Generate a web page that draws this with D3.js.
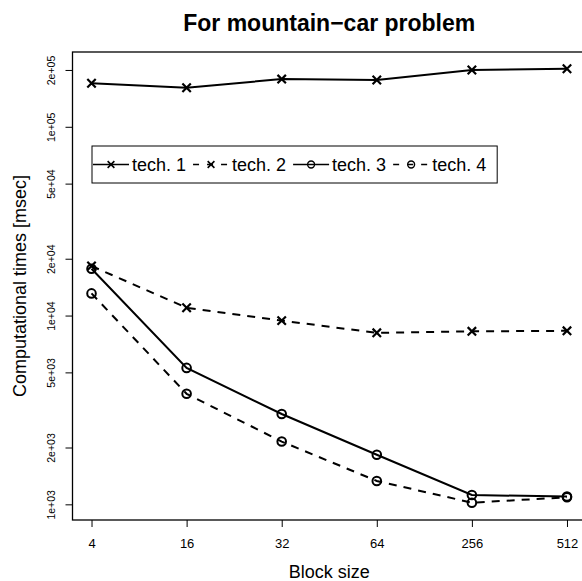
<!DOCTYPE html>
<html>
<head>
<meta charset="utf-8">
<script src="https://cdn.jsdelivr.net/npm/d3@7"></script>
<style>
  html, body { margin: 0; padding: 0; background: #fff; }
  svg { display: block; font-family: "Liberation Sans", Arial, Helvetica, sans-serif; }
</style>
</head>
<body>
<svg id="chart" width="582" height="581"></svg>
<script>
// ---- data ----
const categories = ["4", "16", "32", "64", "256", "512"];
const tech1 = [170000, 161000, 179000, 177000, 200000, 203000];
const tech2 = [18300, 11000, 9400, 8100, 8250, 8300];
const tech3 = [17700, 5280, 3010, 1830, 1120, 1100];
const tech4 = [13100, 3850, 2150, 1330, 1020, 1090];
const seriesNames = ["tech. 1", "tech. 2", "tech. 3", "tech. 4"];
const yTicks = [1000, 2000, 5000, 10000, 20000, 50000, 100000, 200000];
const yTickLabels = ["1e+03", "2e+03", "5e+03", "1e+04", "2e+04", "5e+04", "1e+05", "2e+05"];
const title = "For mountain\u2212car problem";
const xTitle = "Block size";
const yTitle = "Computational times [msec]";

// ---- layout ----
const plotLeft = 72.5, plotRight = 586, plotTop = 52, plotBottom = 520;
const svg = d3.select("#chart");

const x = d3.scaleLinear().domain([-0.2, categories.length - 1 + 0.2]).range([plotLeft, plotRight]);
const y = d3.scaleLog().domain([826, 249000]).range([plotBottom, plotTop]);

const series = [
  { name: seriesNames[0], values: tech1, dash: null, marker: "x" },
  { name: seriesNames[1], values: tech2, dash: "8,7", marker: "x" },
  { name: seriesNames[2], values: tech3, dash: null, marker: "o" },
  { name: seriesNames[3], values: tech4, dash: "8,7", marker: "o" }
];

// box
svg.append("rect")
  .attr("x", plotLeft).attr("y", plotTop)
  .attr("width", plotRight - plotLeft).attr("height", plotBottom - plotTop)
  .attr("fill", "none").attr("stroke", "#000").attr("stroke-width", 1.3);

// y axis
const yAxis = d3.axisLeft(y).tickValues(yTicks).tickSize(7).tickFormat((d, i) => yTickLabels[i]);
const gy = svg.append("g").attr("transform", `translate(${plotLeft},0)`).call(yAxis);
gy.select(".domain").remove();
gy.selectAll(".tick line").attr("stroke", "#000").attr("stroke-width", 1);
gy.selectAll(".tick text")
  .attr("font-size", 10.5).attr("fill", "#000")
  .attr("text-anchor", "middle")
  .attr("transform", "translate(-17.5,0) rotate(-90)")
  .attr("x", 0).attr("dy", 0).attr("y", 0);

// x axis
const xAxis = d3.axisBottom(x).tickValues(d3.range(categories.length)).tickSize(7).tickFormat(i => categories[i]);
const gx = svg.append("g").attr("transform", `translate(0,${plotBottom})`).call(xAxis);
gx.select(".domain").remove();
gx.selectAll(".tick line").attr("stroke", "#000").attr("stroke-width", 1);
gx.selectAll(".tick text").attr("font-size", 13).attr("fill", "#000").attr("y", 28).attr("dy", 0);

// titles
svg.append("text").attr("x", (plotLeft + plotRight) / 2).attr("y", 31)
  .attr("text-anchor", "middle").attr("font-size", 23).attr("font-weight", "bold").text(title);
svg.append("text").attr("x", (plotLeft + plotRight) / 2).attr("y", 578)
  .attr("text-anchor", "middle").attr("font-size", 18).text(xTitle);
svg.append("text").attr("transform", `translate(26,${(plotTop + plotBottom) / 2}) rotate(-90)`)
  .attr("text-anchor", "middle").attr("font-size", 18).text(yTitle);

// marker drawing
function drawMarker(g, cx, cy, type, scale, sw) {
  if (type === "x") {
    const s = 4.2 * scale;
    g.append("path")
      .attr("d", `M${cx - s},${cy - s}L${cx + s},${cy + s}M${cx - s},${cy + s}L${cx + s},${cy - s}`)
      .attr("stroke", "#000").attr("stroke-width", sw + 0.2).attr("fill", "none");
  } else {
    g.append("circle").attr("cx", cx).attr("cy", cy).attr("r", 4.3 * scale)
      .attr("stroke", "#000").attr("stroke-width", sw).attr("fill", "none");
  }
}

const line = d3.line().x((d, i) => x(i)).y(d => y(d));
const plotG = svg.append("g");
series.forEach(s => {
  plotG.append("path").datum(s.values)
    .attr("d", line)
    .attr("fill", "none").attr("stroke", "#000").attr("stroke-width", 2)
    .attr("stroke-dasharray", s.dash);
  s.values.forEach((v, i) => drawMarker(plotG, x(i), y(v), s.marker, 1, 2));
});

// legend
const legLeft = 92, legTop = 146, legH = 37, legFont = 18;
const legG = svg.append("g");
const legBox = legG.append("rect").attr("x", legLeft).attr("y", legTop).attr("height", legH)
  .attr("fill", "#fff").attr("stroke", "#000").attr("stroke-width", 1);
let cx = legLeft + 1;
const cy = legTop + legH / 2;
series.forEach(s => {
  const segLen = 36;
  legG.append("line").attr("x1", cx).attr("x2", cx + segLen).attr("y1", cy).attr("y2", cy)
    .attr("stroke", "#000").attr("stroke-width", 1.5).attr("stroke-dasharray", s.dash ? "6,8" : null);
  drawMarker(legG, cx + segLen / 2, cy, s.marker, 0.8, 1.4);
  const t = legG.append("text").attr("x", cx + segLen + 3).attr("y", cy + 6.5)
    .attr("font-size", legFont).text(s.name);
  const w = t.node().getComputedTextLength();
  cx = cx + segLen + 3 + w + 7;
});
legBox.attr("width", Math.max(cx - legLeft + 4, 0));
</script>
</body>
</html>
